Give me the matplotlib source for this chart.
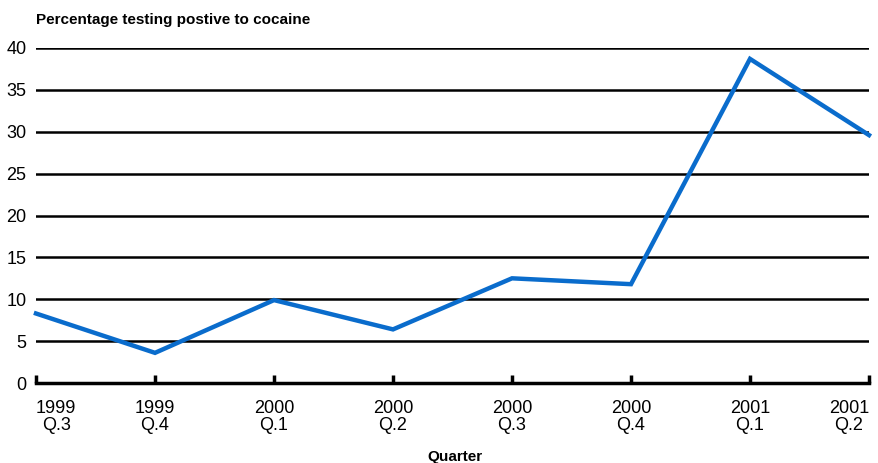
import matplotlib.pyplot as plt

# Quarterly share of tests positive for cocaine
years = ['1999', '1999', '2000', '2000', '2000', '2000', '2001', '2001']
quarters = ['Q.3', 'Q.4', 'Q.1', 'Q.2', 'Q.3', 'Q.4', 'Q.1', 'Q.2']
values = [8.3, 3.6, 9.9, 6.4, 12.5, 11.8, 38.7, 29.6]
yticks = [0, 5, 10, 15, 20, 25, 30, 35, 40]

plt.rcParams['font.family'] = ['Liberation Sans Narrow', 'Liberation Sans', 'DejaVu Sans']

fig = plt.figure(figsize=(8.79, 4.63), dpi=100)
ax = fig.add_axes([36 / 879, 1 - 383 / 463, (869 - 36) / 879, (383 - 48) / 463])

x = list(range(len(values)))
labels = [f'{y}\n{q}' for y, q in zip(years, quarters)]

for t in yticks[1:]:
    ax.axhline(t, color='black', lw=1.8, zorder=1)

ax.plot(x, values, color='#0a6ccc', lw=3.2, zorder=3, clip_on=False, solid_joinstyle='miter')

ax.set_xlim(0, 7)
ax.set_ylim(0, 40)
ax.set_yticks(yticks)
ax.set_xticks(x)
ax.set_xticklabels(labels, fontsize=13, linespacing=1.0, multialignment='center')
ax.tick_params(axis='y', length=0, labelsize=13, pad=7)
ax.tick_params(axis='x', direction='in', length=6, width=2.5, pad=12, color='black')

# end labels sit inside the plot width, as in the original
ticklabels = ax.get_xticklabels()
ticklabels[0].set_ha('left')
ticklabels[-1].set_ha('right')

for s in ['top', 'right', 'left']:
    ax.spines[s].set_visible(False)
ax.spines['bottom'].set_linewidth(2.5)

fig.text(36 / 879, 1 - 20 / 463, 'Percentage testing postive to cocaine',
         fontsize=11, fontweight='bold', va='center', ha='left')
fig.text(455 / 879, 1 - 457 / 463, 'Quarter', fontsize=11, fontweight='bold',
         va='center', ha='center')

fig.savefig('out.png', dpi=100)
